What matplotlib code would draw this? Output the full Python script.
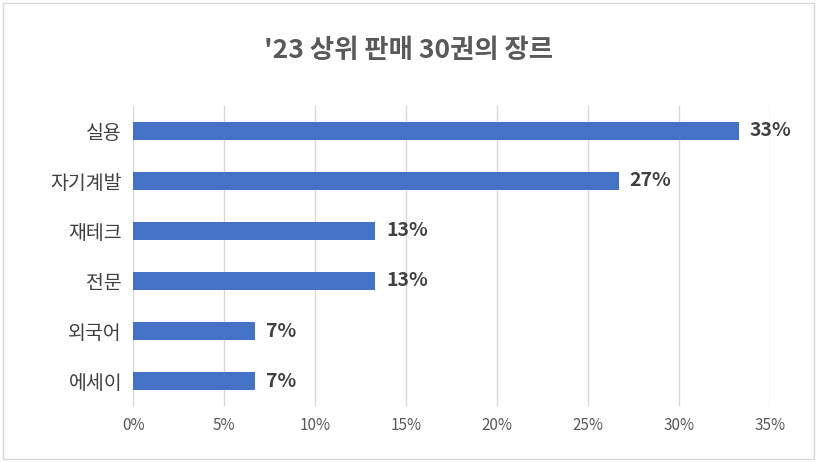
import matplotlib
matplotlib.use("Agg")
import matplotlib.pyplot as plt
from matplotlib.patches import Rectangle

plt.rcParams['font.family'] = ['Noto Sans CJK KR', 'DejaVu Sans']

genres = ["실용", "자기계발", "재테크", "전문", "외국어", "에세이"]
shares = [33.3, 26.7, 13.3, 13.3, 6.7, 6.7]
labels = ["33%", "27%", "13%", "13%", "7%", "7%"]
ticks = [0, 5, 10, 15, 20, 25, 30, 35]

fig = plt.figure(figsize=(8.17, 4.62), dpi=100)
ax = fig.add_axes([0.163, 0.121, 0.779, 0.65])

y = list(range(len(genres)))[::-1]
ax.barh(y, shares, height=0.36, color="#4472C4", zorder=3)
for yi, v, lab in zip(y, shares, labels):
    ax.text(v + 0.6, yi, lab, va="center", ha="left", fontsize=14,
            fontweight="bold", color="#404040")

ax.set_xlim(0, 35)
ax.set_ylim(-0.5, len(genres) - 0.5)
ax.set_xticks(ticks)
ax.set_xticklabels([f"{t}%" for t in ticks], fontsize=11, color="#595959")
ax.set_yticks(y)
ax.set_yticklabels(genres, fontsize=14, color="#404040")
ax.tick_params(length=0, pad=8)
ax.grid(axis="x", color="#D9D9D9", linewidth=1, zorder=0)
for s in ["top", "right", "bottom"]:
    ax.spines[s].set_visible(False)
ax.spines["left"].set_color("#D9D9D9")

fig.text(0.5, 0.89, "'23 상위 판매 30권의 장르", ha="center", va="center",
         fontsize=19, fontweight="bold", color="#595959")
fig.patches.append(Rectangle((0.004, 0.006), 0.992, 0.988, transform=fig.transFigure,
                             fill=False, edgecolor="#D9D9D9", linewidth=1))

fig.savefig("out.png", dpi=100)
